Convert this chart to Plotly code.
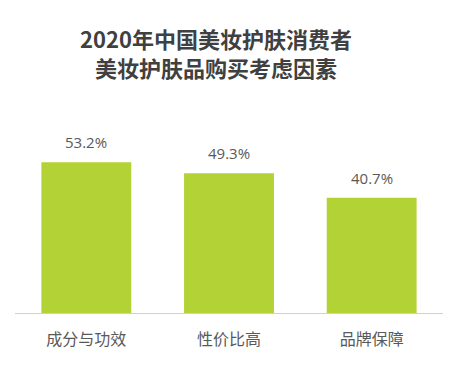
import plotly.graph_objects as go

categories = ["成分与功效", "性价比高", "品牌保障"]
values = [53.2, 49.3, 40.7]
value_labels = ["53.2%", "49.3%", "40.7%"]
title_lines = ["2020年中国美妆护肤消费者", "美妆护肤品购买考虑因素"]

bar_color = "#B3D236"
text_color = "#595959"

W, H = 465, 370
ml, mr, mt, mb = 15, 22, 143, 57
pw, ph = W - ml - mr, H - mt - mb

fig = go.Figure(
    go.Bar(
        x=categories,
        y=values,
        marker=dict(color=bar_color, line=dict(width=0)),
        hoverinfo="skip",
    )
)

for c, v, t in zip(categories, values, value_labels):
    fig.add_annotation(
        x=c, y=v, text=t, showarrow=False, yanchor="bottom", yshift=8,
        font=dict(family="Open Sans, Noto Sans, sans-serif", size=15, color=text_color),
    )

# Title lines (centre positions in pixels converted to paper coords)
for line, cy in zip(title_lines, [38, 67]):
    fig.add_annotation(
        text=line, showarrow=False,
        xref="paper", yref="paper",
        x=(216 - ml) / pw, y=(H - mb - cy) / ph,
        xanchor="center", yanchor="middle",
        font=dict(family="Noto Sans CJK SC", size=22, color="#404040", weight="bold"),
    )

fig.update_layout(
    width=W,
    height=H,
    margin=dict(l=ml, r=mr, t=mt, b=mb),
    paper_bgcolor="white",
    plot_bgcolor="white",
    bargap=0.37,
    showlegend=False,
    xaxis=dict(
        showline=True,
        linecolor="#D0D0D0",
        linewidth=1,
        showgrid=False,
        zeroline=False,
        ticks="",
        ticklabelstandoff=12,
        tickfont=dict(family="Noto Sans CJK SC", size=16, color=text_color),
        fixedrange=True,
    ),
    yaxis=dict(
        range=[0, 60],
        visible=False,
        showgrid=False,
        zeroline=False,
        fixedrange=True,
    ),
)

fig.write_html("out.html")
